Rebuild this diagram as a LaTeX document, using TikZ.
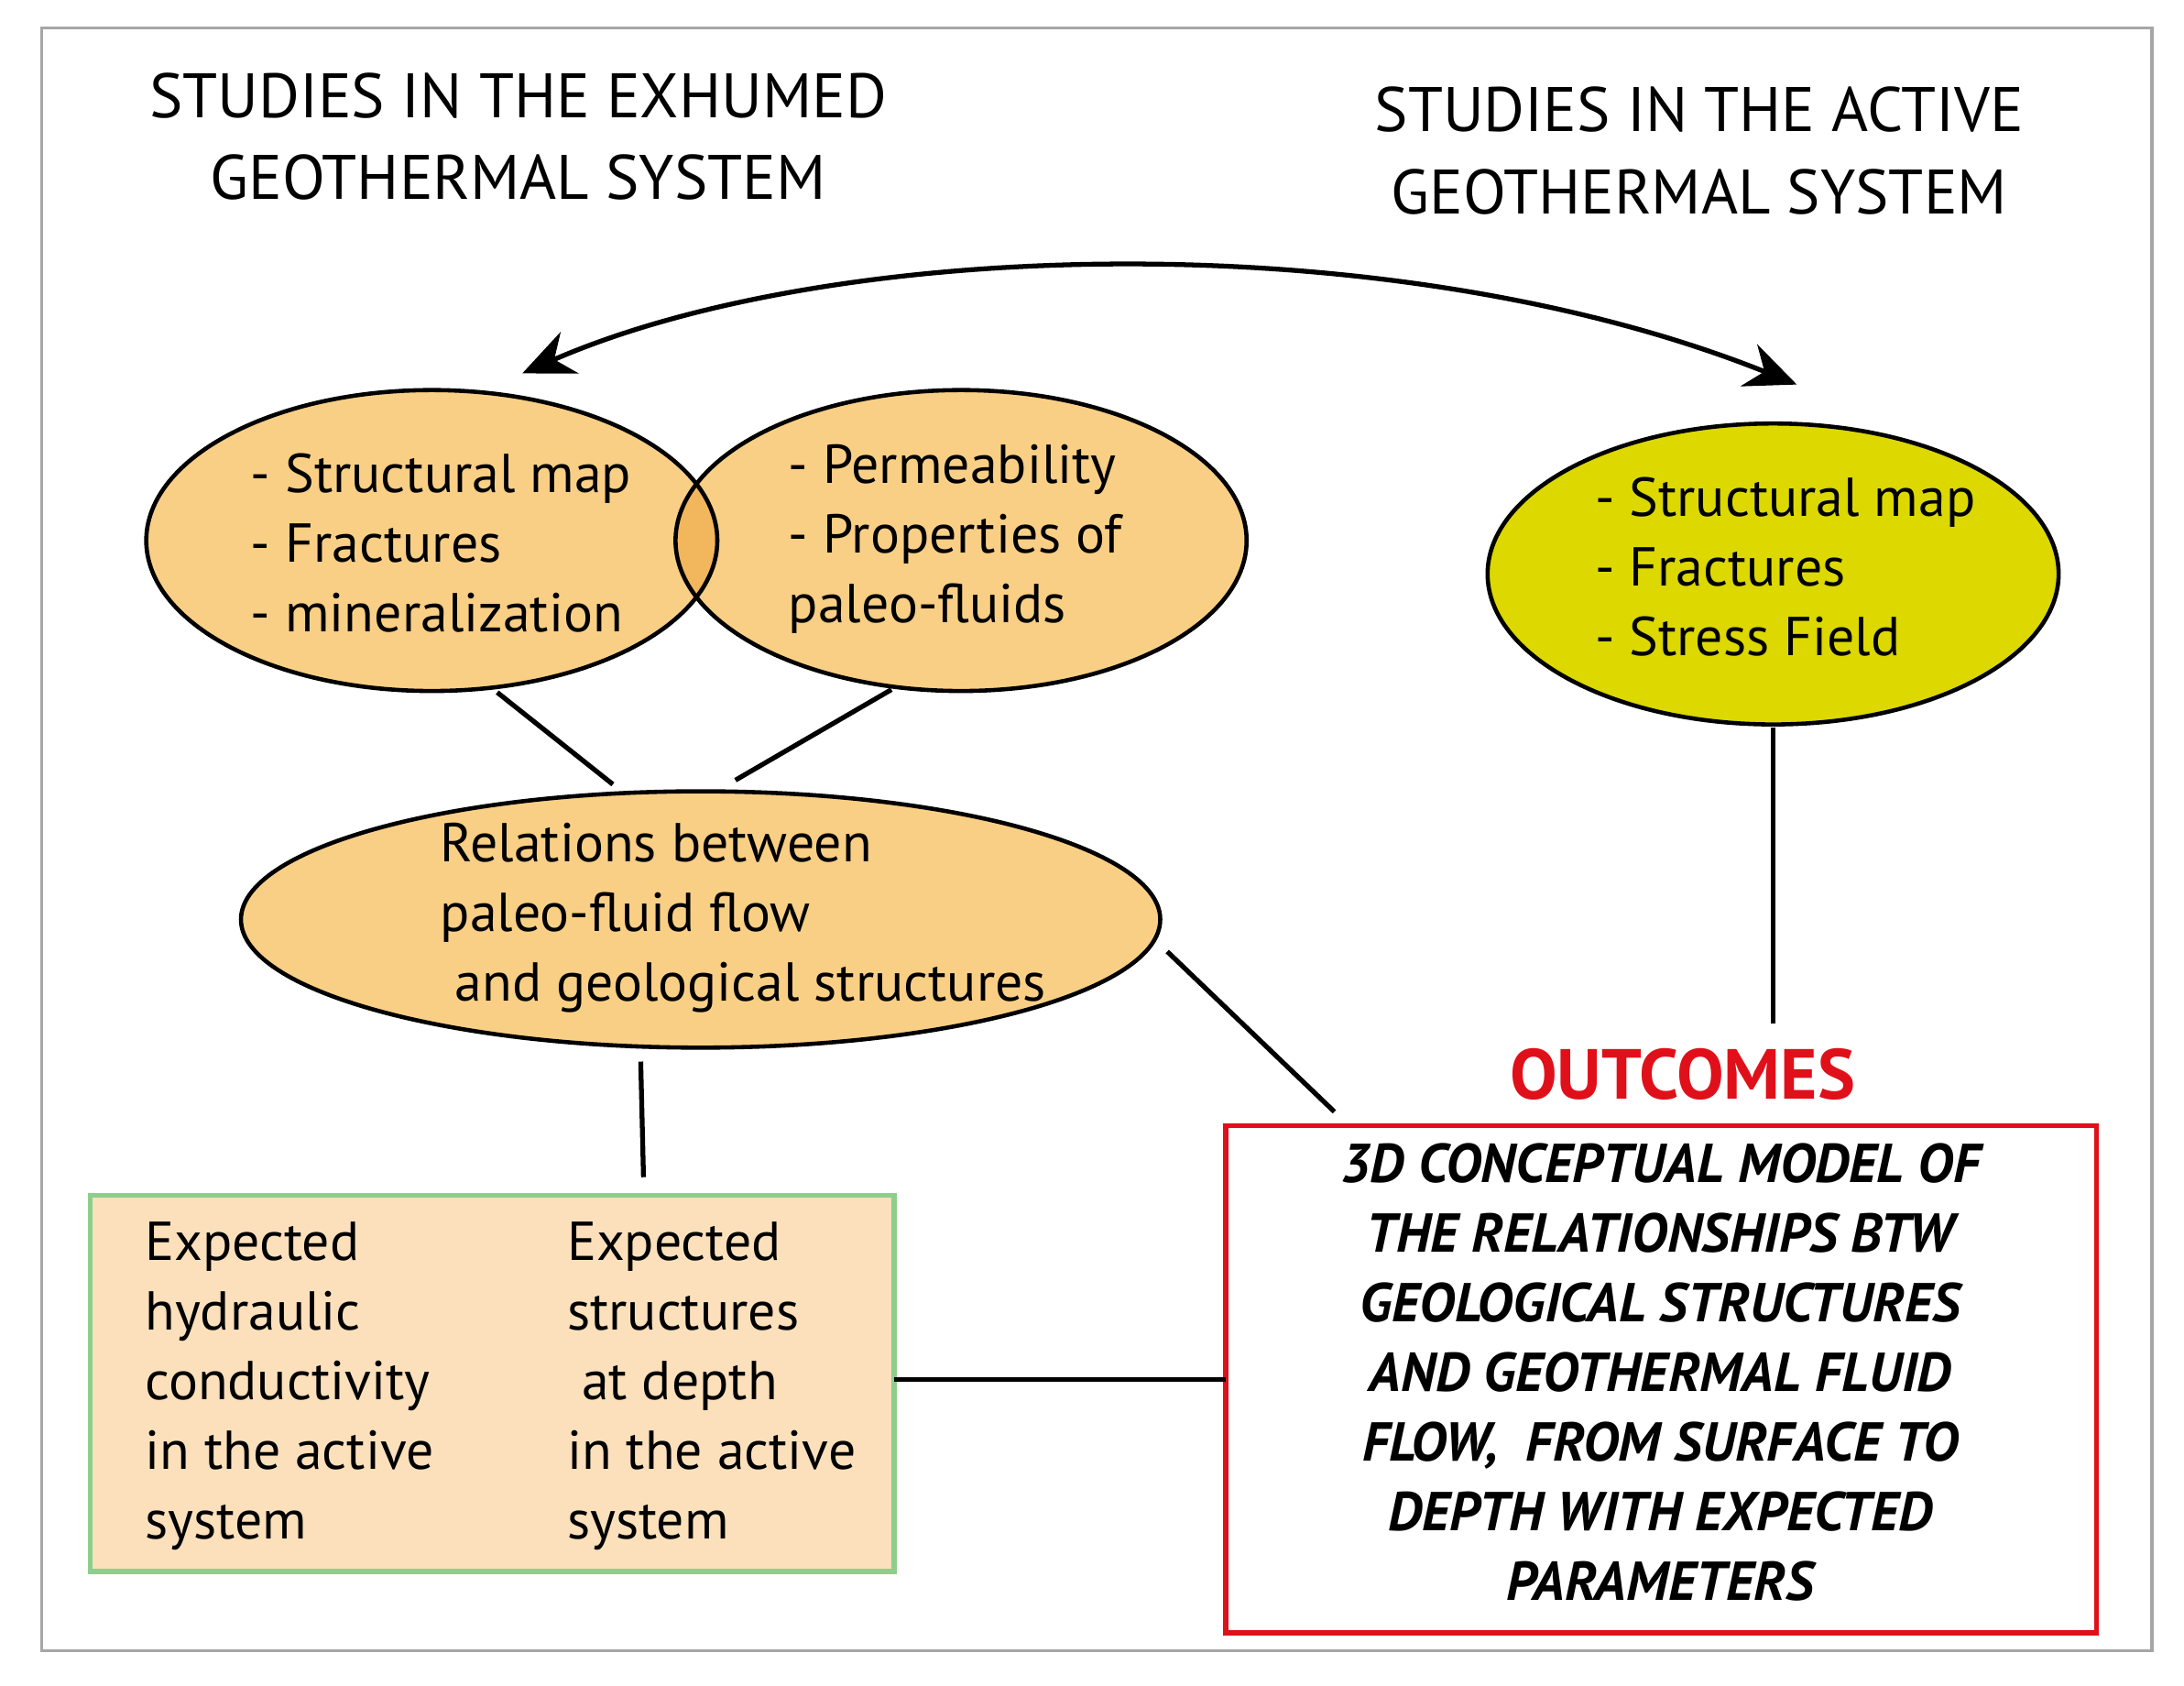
\documentclass[tikz,border=0pt]{standalone}
\usepackage{fontspec}
\setmainfont{PT Sans}
\usetikzlibrary{arrows.meta}
\definecolor{org}{HTML}{F9CF86}
\definecolor{ovl}{HTML}{F2B65C}
\definecolor{yel}{HTML}{DCD800}
\definecolor{boxf}{HTML}{FBE0BB}
\definecolor{boxg}{HTML}{8CCF8C}
\definecolor{red1}{HTML}{E0101A}
\begin{document}
\begin{tikzpicture}[x=0.0152cm,y=-0.0152cm,
  ell/.style={draw=black,line width=1.3pt},
  txt/.style={font=\fontsize{17}{21.6}\selectfont,align=left},
  con/.style={line width=1.5pt}]
\useasboundingbox (0,0) rectangle (1568,1210);
\draw[gray!70,line width=1pt] (30,20) rectangle (1545,1185);
\node[font=\fontsize{19.5}{25.5}\selectfont,align=center] (h1) at (372,98) {STUDIES IN THE EXHUMED\\GEOTHERMAL SYSTEM};
\node[font=\fontsize{19.5}{25.5}\selectfont,align=center] (h2) at (1220,108) {STUDIES IN THE ACTIVE\\GEOTHERMAL SYSTEM};
\coordinate (l) at (375,268); \coordinate (r) at (1290,276);
\draw[line width=1.5pt,{Stealth[length=16pt,width=14pt]}-{Stealth[length=16pt,width=14pt]}] (l) .. controls (600,170) and (1000,160) .. (r);
% ellipses
\fill[org] (310,388) ellipse (205 and 108);
\fill[org] (690,388) ellipse (205 and 108);
\begin{scope}\clip (310,388) ellipse (205 and 108); \fill[ovl] (690,388) ellipse (205 and 108);\end{scope}
\draw[ell] (310,388) ellipse (205 and 108);
\draw[ell] (690,388) ellipse (205 and 108);
\node[txt,anchor=west] (a) at (172,390) {- Structural map\\- Fractures\\- mineralization};
\node[txt,anchor=west] (b) at (558,387) {- Permeability\\- Properties of\\paleo-fluids};
\draw[ell,fill=yel] (1273,412) ellipse (205 and 108);
\node[txt,anchor=west] (c) at (1137,407) {- Structural map\\- Fractures\\- Stress Field};
\draw[ell,fill=org] (503,660) ellipse (330 and 92);
\node[txt,anchor=west] (d) at (308,659) {Relations between\\paleo-fluid flow\\\ and geological structures};
% boxes
\draw[boxg,line width=1.5pt,fill=boxf] (65,858) rectangle (642,1128);
\node[txt,anchor=west] (e) at (96,995) {Expected\\hydraulic\\conductivity\\in the active\\system};
\node[txt,anchor=west] (f) at (399,995) {Expected\\structures\\\ at depth\\in the active\\system};
\draw[red1,line width=1.5pt] (880,808) rectangle (1505,1172);
\node[font=\fontsize{17}{21.6}\selectfont\bfseries\itshape,align=center] (g) at (1192,985) {3D CONCEPTUAL MODEL OF\\THE RELATIONSHIPS BTW\\GEOLOGICAL STRUCTURES\\AND GEOTHERMAL FLUID\\FLOW,\ \ FROM SURFACE TO\\DEPTH WITH EXPECTED\\PARAMETERS};
\node[font=\fontsize{22}{26}\selectfont\bfseries,text=red1] (o) at (1208,771) {OUTCOMES};
% connectors
\coordinate (p1) at (357,497); \coordinate (p2) at (440,563);
\coordinate (p3) at (640,495); \coordinate (p4) at (528,560);
\coordinate (p5) at (1273,522); \coordinate (p6) at (1273,735);
\coordinate (p7) at (838,683); \coordinate (p8) at (958,798);
\coordinate (p9) at (460,762); \coordinate (p10) at (462,845);
\coordinate (p11) at (642,990); \coordinate (p12) at (880,990);
\draw[con] (p1)--(p2); \draw[con] (p3)--(p4); \draw[con] (p5)--(p6);
\draw[con] (p7)--(p8); \draw[con] (p9)--(p10); \draw[con] (p11)--(p12);
\end{tikzpicture}
\end{document}
